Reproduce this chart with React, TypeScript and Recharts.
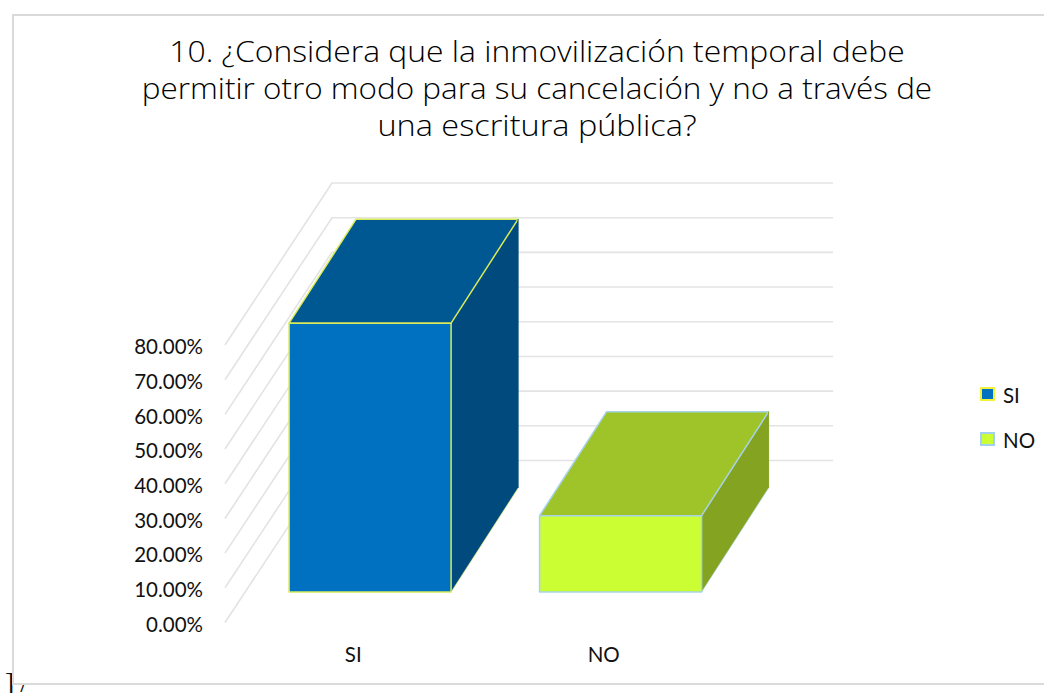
import React from "react";
import { BarChart, Bar, XAxis, YAxis, CartesianGrid } from "recharts";

const categories = ["SI", "NO"];
const siValues = [77.5, null];
const noValues = [null, 22];
const yTicks = [0, 10, 20, 30, 40, 50, 60, 70, 80];
const titleLines = [
  "10. ¿Considera que la inmovilización temporal debe",
  "permitir otro modo para su cancelación y no a través de",
  "una escritura pública?",
];

const rows = categories.map((name, i) => ({ name, SI: siValues[i], NO: noValues[i] }));

const WIDTH = 1044;
const HEIGHT = 693;
const FONT = "Lato, 'Open Sans', sans-serif";
const LABEL_SIZE = 20.5;

// Oblique floor of the 3D plot: wall depth, bar inset and bar depth in pixels.
const WALL_DX = 107;
const WALL_DY = -162;
const INSET_DX = 20;
const INSET_DY = -30.5;
const BOX_DX = 67;
const BOX_DY = -104;

type Palette = { front: string; top: string; side: string; edge: string };
const siPalette: Palette = { front: "#0070c0", top: "#005893", side: "#004a7e", edge: "#d8ea5a" };
const noPalette: Palette = { front: "#ccff33", top: "#9fc429", side: "#84a421", edge: "#a6d3ea" };

function Box(props: any, c: Palette) {
  const { x, y, width, height } = props;
  if (!height || height <= 0) return null;
  const l = x + INSET_DX;
  const r = l + width;
  const t = y + INSET_DY;
  const b = t + height;
  const pts = (p: number[][]) => p.map((q) => q.join(",")).join(" ");
  const e = { stroke: c.edge, strokeWidth: 1.5, strokeLinejoin: "round" as const };
  return (
    <g>
      <polygon points={pts([[r, t], [r + BOX_DX, t + BOX_DY], [r + BOX_DX, b + BOX_DY], [r, b]])} fill={c.side} />
      <polygon points={pts([[l, t], [l + BOX_DX, t + BOX_DY], [r + BOX_DX, t + BOX_DY], [r, t]])} fill={c.top} {...e} />
      <line x1={r} y1={b} x2={r + BOX_DX} y2={b + BOX_DY} stroke={c.edge} strokeWidth={0.6} />
      <line x1={r + BOX_DX} y1={t + BOX_DY} x2={r + BOX_DX} y2={b + BOX_DY} stroke={c.side} strokeWidth={1} />
      <rect x={l} y={t} width={width} height={height} fill={c.front} {...e} />
    </g>
  );
}

// Each horizontal grid value is a bent line: diagonal along the side wall, then across the back wall.
function WallLine(props: any) {
  const { x1, x2, y1, index } = props;
  return (
    <polyline
      key={index}
      points={`${x1},${y1} ${x1 + WALL_DX},${y1 + WALL_DY} ${x2 + WALL_DX},${y1 + WALL_DY}`}
      fill="none"
      stroke="#e3e3e3"
      strokeWidth={1.6}
    />
  );
}

function LegendBlock() {
  const items = [
    { label: "SI", fill: siPalette.front, edge: "#f2f23c", top: 387 },
    { label: "NO", fill: noPalette.front, edge: "#a3d0f0", top: 432 },
  ];
  return (
    <div style={{ position: "absolute", left: 0, top: 0 }}>
      {items.map((it) => (
        <div key={it.label} style={{ position: "absolute", left: 980, top: it.top, width: 70 }}>
          <div
            style={{
              position: "absolute",
              left: 0,
              top: 0,
              width: 11,
              height: 10,
              background: it.fill,
              border: `2px solid ${it.edge}`,
            }}
          />
          <div
            style={{
              position: "absolute",
              left: 23,
              top: -3,
              fontFamily: FONT,
              fontSize: LABEL_SIZE,
              lineHeight: "22px",
              color: "#111",
            }}
          >
            {it.label}
          </div>
        </div>
      ))}
    </div>
  );
}

const titleStretch = [1.08, 1.066, 1.1];

export default function App() {
  return (
    <div
      style={{
        position: "fixed",
        left: 0,
        top: 0,
        width: WIDTH,
        height: HEIGHT,
        background: "#fff",
        overflow: "hidden",
      }}
    >
      <div
        style={{
          position: "absolute",
          left: 5,
          top: 668,
          fontFamily: "'Liberation Serif', serif",
          fontSize: 28,
          lineHeight: "30px",
          letterSpacing: 6,
          color: "#111",
        }}
      >
        ]/
      </div>
      <div
        style={{
          position: "absolute",
          left: 12,
          top: 14,
          width: WIDTH,
          height: 671,
          border: "2px solid #dadada",
          boxSizing: "border-box",
          background: "#fff",
        }}
      />
      <BarChart
        width={WIDTH}
        height={HEIGHT}
        data={rows}
        barCategoryGap="17.6%"
        margin={{ top: 345, right: WIDTH - 726, bottom: HEIGHT - 622.5 - 40, left: 125 }}
        style={{ position: "absolute", left: 0, top: 0 }}
      >
        <CartesianGrid vertical={false} horizontal={(p: any) => <WallLine {...p} />} />
        <XAxis
          dataKey="name"
          axisLine={false}
          tickLine={false}
          interval={0}
          height={40}
          tick={{ fontFamily: FONT, fontSize: LABEL_SIZE, fill: "#111", dx: 3, dy: 17 }}
        />
        <YAxis
          type="number"
          domain={[0, 80]}
          ticks={yTicks}
          axisLine={false}
          tickLine={false}
          width={100}
          tickFormatter={(v: number) => `${v.toFixed(2)}%`}
          tick={{ fontFamily: FONT, fontSize: LABEL_SIZE, fill: "#111", dx: -14, dy: 2 }}
        />
        <Bar dataKey="SI" stackId="a" isAnimationActive={false} shape={(p: any) => Box(p, siPalette)} />
        <Bar dataKey="NO" stackId="a" isAnimationActive={false} shape={(p: any) => Box(p, noPalette)} />
      </BarChart>
      <div
        style={{
          position: "absolute",
          left: 0,
          top: 32,
          width: 1074,
          textAlign: "center",
          fontFamily: "'Open Sans', sans-serif",
          fontWeight: 300,
          fontSize: 29.5,
          lineHeight: "37px",
          color: "#000",
        }}
      >
        {titleLines.map((t, i) => (
          <div key={t} style={{ transform: `scaleX(${titleStretch[i]})` }}>
            {t}
          </div>
        ))}
      </div>
      <LegendBlock />
    </div>
  );
}
